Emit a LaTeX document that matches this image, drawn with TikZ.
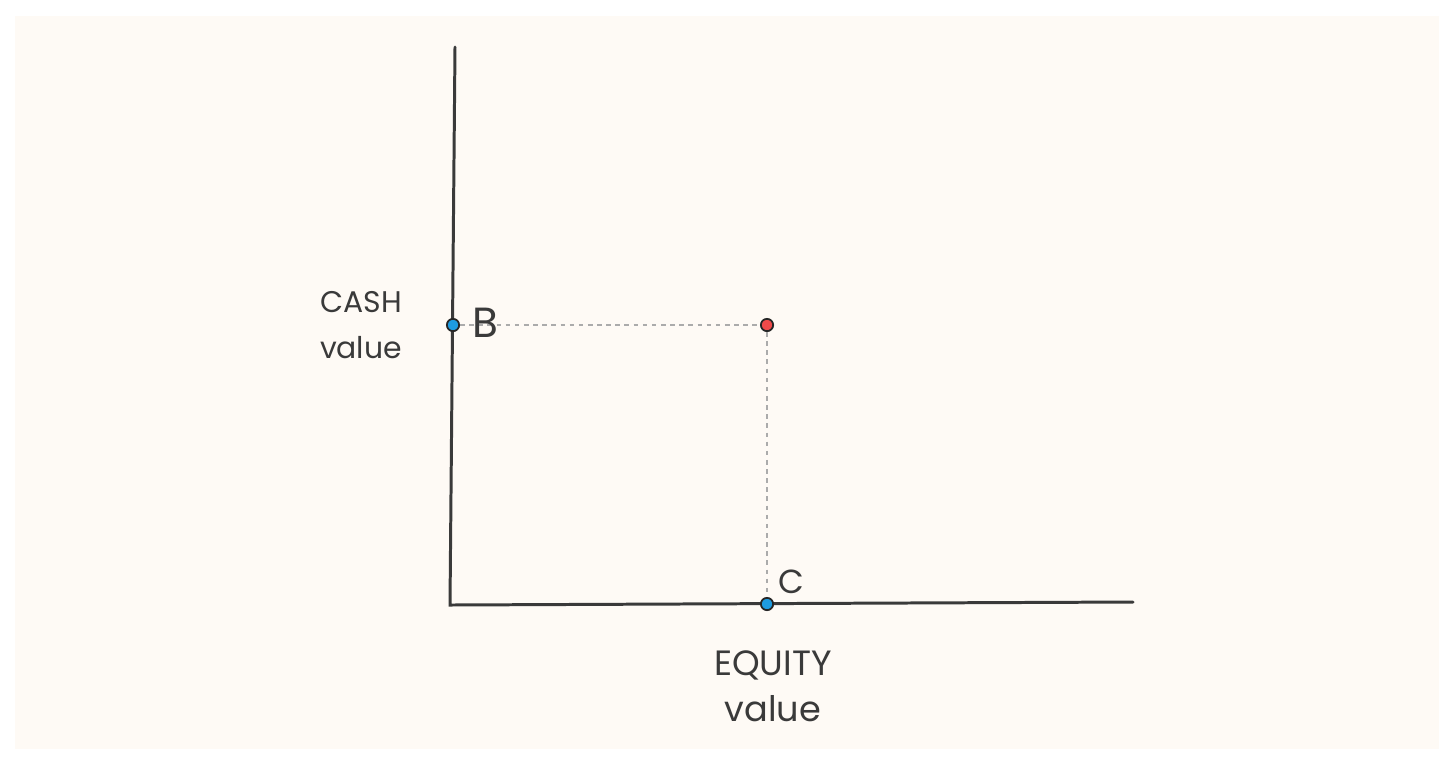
\documentclass[tikz,border=0pt]{standalone}
\usepackage{fontspec}
\setmainfont{Poppins}
\usetikzlibrary{positioning}

\definecolor{paper}{HTML}{FEFAF5}
\definecolor{ink}{HTML}{3A3A3A}
\definecolor{guide}{HTML}{ABABAB}
\definecolor{dotBlue}{HTML}{1E9BE0}
\definecolor{dotRed}{HTML}{F04A4A}

\begin{document}
\begin{tikzpicture}[x=0.02cm, y=-0.02cm]
    \def\axisW{1.7pt}
    \def\dotR{7pt}

    \tikzstyle{axis} = [draw=ink, line width=\axisW, line cap=round]
    \tikzstyle{guideline} = [draw=guide, line width=0.9pt, dash pattern=on 2.6pt off 2.6pt]
    \tikzstyle{dot} = [circle, draw=black!85, line width=1pt, inner sep=0pt, minimum size=\dotR]
    \tikzstyle{caption} = [text=ink, align=center, font=\fontsize{17}{26}\selectfont]

    % page and panel
    \fill[white] (0,0) rectangle (1456,762);
    \fill[paper] (15,16) rectangle (1439,749);
    \useasboundingbox (0,0) rectangle (1456,762);

    % axes
    \coordinate (yTop) at (455,47);
    \coordinate (origin) at (450,605);
    \coordinate (xEnd) at (1133,602);
    \draw[axis] (yTop) -- (origin) -- (xEnd);

    % points
    \node (b) [dot, fill=dotBlue] at (453,325) {};
    \node (p) [dot, fill=dotRed] at (767,325) {};
    \node (c) [dot, fill=dotBlue] at (767,604) {};

    % guide lines
    \draw[guideline] (b) -- (p);
    \draw[guideline] (p) -- (c);

    % labels
    \node (bLabel) [text=ink, font=\fontsize{24}{24}\selectfont] at (485,323) {B};
    \node (cLabel) [text=ink, font=\fontsize{19}{19}\selectfont] at (791,582) {C};
    \node (cashLabel) [caption] at (361,325) {CASH\\value};
    \node (equityLabel) [caption, font=\fontsize{20}{26}\selectfont] at (773,686) {EQUITY\\value};
\end{tikzpicture}
\end{document}
